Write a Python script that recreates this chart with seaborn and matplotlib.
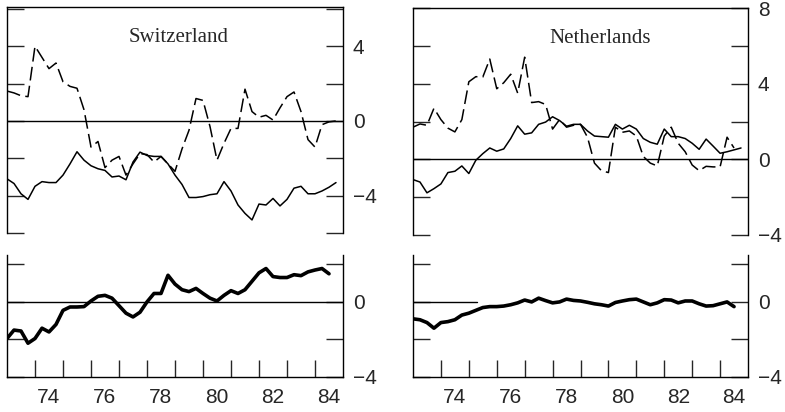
import numpy as np
import pandas as pd
import matplotlib
matplotlib.use("Agg")
import matplotlib.pyplot as plt
import seaborn as sns
from matplotlib.ticker import FixedLocator, FuncFormatter

# ---------------- data (quarterly, starting 1973Q1) ----------------
sw_dashed = [1.6, 1.5, 1.35, 1.3, 4.0, 3.4, 2.8, 3.1, 2.1, 1.85, 1.75, 0.6,
             -1.4, -1.1, -2.5, -2.1, -1.9, -2.9, -2.3, -1.75, -1.8, -2.2, -1.9, -2.3,
             -2.7, -1.5, -0.5, 1.2, 1.1, -0.3, -2.1, -1.2, -0.4, -0.4, 1.7, 0.5,
             0.2, 0.3, 0.05, 0.7, 1.3, 1.55, 0.5, -1.0, -1.4, -0.2, -0.05, 0.0]
sw_solid = [-3.1, -3.35, -3.9, -4.2, -3.5, -3.25, -3.3, -3.3, -2.9, -2.3, -1.65, -2.1,
            -2.4, -2.56, -2.65, -3.0, -2.95, -3.15, -2.2, -1.67, -1.85, -1.9, -1.9, -2.3,
            -2.9, -3.4, -4.1, -4.1, -4.05, -3.95, -3.9, -3.25, -3.75, -4.5, -4.95, -5.3,
            -4.45, -4.5, -4.15, -4.55, -4.2, -3.6, -3.5, -3.9, -3.9, -3.75, -3.55, -3.3]
sw_bottom = [-1.95, -1.5, -1.55, -2.2, -1.95, -1.4, -1.6, -1.2, -0.45, -0.27, -0.27, -0.25,
             0.05, 0.3, 0.35, 0.2, -0.2, -0.6, -0.8, -0.55, 0.0, 0.45, 0.45, 1.42,
             0.95, 0.65, 0.55, 0.72, 0.45, 0.2, 0.05, 0.35, 0.6, 0.45, 0.65, 1.1,
             1.55, 1.78, 1.35, 1.3, 1.3, 1.45, 1.4, 1.6, 1.7, 1.78, 1.5]

nl_dashed = [1.7, 1.87, 1.8, 2.7, 2.1, 1.65, 1.45, 2.1, 4.1, 4.37, 4.35, 5.3,
             3.73, 4.05, 4.5, 3.5, 5.4, 3.0, 3.05, 2.9, 1.6, 2.1, 1.7, 1.8,
             1.85, 1.17, -0.2, -0.6, -0.7, 1.7, 1.43, 1.5, 1.23, 0.15, -0.2, -0.35,
             1.23, 1.7, 0.85, 0.4, -0.3, -0.6, -0.37, -0.4, -0.4, 1.17, 0.6]
nl_solid = [-1.07, -1.2, -1.77, -1.55, -1.3, -0.7, -0.63, -0.35, -0.75, -0.05, 0.3, 0.6,
            0.43, 0.55, 1.1, 1.77, 1.33, 1.4, 1.85, 1.97, 2.25, 2.05, 1.75, 1.85,
            1.85, 1.5, 1.23, 1.2, 1.17, 1.85, 1.6, 1.8, 1.6, 1.1, 0.9, 0.8,
            1.6, 1.2, 1.2, 1.1, 0.85, 0.53, 1.07, 0.7, 0.32, 0.4, 0.5, 0.6]
nl_bottom = [-0.9, -0.95, -1.1, -1.4, -1.1, -1.05, -0.95, -0.7, -0.6, -0.45, -0.3, -0.25,
             -0.25, -0.22, -0.15, -0.05, 0.1, 0.0, 0.2, 0.07, -0.05, 0.0, 0.15, 0.08,
             0.05, -0.02, -0.1, -0.15, -0.22, -0.03, 0.05, 0.12, 0.15, 0.0, -0.15, -0.05,
             0.12, 0.1, -0.05, 0.05, 0.05, -0.1, -0.22, -0.2, -0.1, 0.0, -0.25]

start_year = 1973
year_ticks = list(range(1974, 1985))
year_labels = ["74", "76", "78", "80", "82", "84"]
label_pos = [1974.5, 1976.5, 1978.5, 1980.5, 1982.5, 1984.5]
titles = ["Switzerland", "Netherlands"]


def qx(vals):
    return start_year + np.arange(len(vals)) * 0.25


# ---------------- figure ----------------
sns.set_style("white")
plt.rcParams["font.family"] = ["Liberation Sans", "DejaVu Sans"]

W, H = 785, 412
fig = plt.figure(figsize=(W / 100, H / 100), dpi=100)


def box(l, t, r, b):
    return [l / W, 1 - b / H, (r - l) / W, (b - t) / H]


ax_sw_top = fig.add_axes(box(7, 7, 343, 233))
ax_sw_bot = fig.add_axes(box(7, 255, 343, 377))
ax_nl_top = fig.add_axes(box(413, 8, 748, 235))
ax_nl_bot = fig.add_axes(box(413, 255, 748, 377))

DASH = (0, (9, 3.5))


def draw_top(ax, solid, dashed, ylim, title, tx):
    ax.axhline(0, color="black", lw=1.0, zorder=1)
    sns.lineplot(x=qx(solid), y=solid, ax=ax, color="black", lw=1.1, zorder=3)
    sns.lineplot(x=qx(dashed), y=dashed, ax=ax, color="black", lw=1.1,
                 linestyle=DASH, zorder=3)
    ax.set_ylim(*ylim)
    ax.text(tx, 0.865, title, transform=ax.transAxes, ha="center", va="center",
            fontsize=15, family=["Liberation Serif", "DejaVu Serif"])
    ax.tick_params(axis="x", which="both", bottom=False, labelbottom=False)
    for s in ["left", "right", "top"]:
        ax.spines[s].set_visible(True)
        ax.spines[s].set_linewidth(1.0)
        ax.spines[s].set_color("black")
    ax.spines["bottom"].set_visible(False)


def draw_bottom(ax, vals, zero_xmax=1.0):
    ax.axhline(0, color="black", lw=1.0, xmax=zero_xmax, zorder=1)
    sns.lineplot(x=qx(vals), y=vals, ax=ax, color="black", lw=2.6, zorder=3)
    ax.set_ylim(-4, 2.5)
    for s in ["left", "right", "bottom"]:
        ax.spines[s].set_visible(True)
        ax.spines[s].set_linewidth(1.0)
        ax.spines[s].set_color("black")
    ax.spines["top"].set_visible(False)
    ax.xaxis.set_major_locator(FixedLocator(year_ticks))
    ax.xaxis.set_major_formatter(FuncFormatter(lambda v, p: ""))
    ax.xaxis.set_minor_locator(FixedLocator(label_pos))
    ax.set_xticks(label_pos, year_labels, minor=True)
    ax.tick_params(axis="x", which="major", direction="in", length=12, width=1.0,
                   bottom=True, top=False)
    ax.tick_params(axis="x", which="minor", length=0, pad=8, labelsize=15)


def ylab(v, p):
    if abs(v % 4) < 1e-9:
        iv = int(round(v))
        return f"\u2212{abs(iv)}" if iv < 0 else f"{iv}"
    return ""


def yaxis(ax, ticks):
    ax.yaxis.set_major_locator(FixedLocator(ticks))
    ax.yaxis.set_major_formatter(FuncFormatter(ylab))
    ax.tick_params(axis="y", which="major", direction="in", length=12, width=1.0,
                   left=True, right=True, labelleft=False, labelright=True,
                   pad=7, labelsize=15)
    ax.set_xlim(1973, 1985)
    ax.set_xlabel("")
    ax.set_ylabel("")


draw_top(ax_sw_top, sw_solid, sw_dashed, (-6, 6.1), titles[0], 0.512)
draw_top(ax_nl_top, nl_solid, nl_dashed, (-4, 8), titles[1], 0.558)
draw_bottom(ax_sw_bot, sw_bottom)
draw_bottom(ax_nl_bot, nl_bottom, zero_xmax=0.19)

yaxis(ax_sw_top, [-6, -4, -2, 0, 2, 4, 6])
yaxis(ax_nl_top, [-4, -2, 0, 2, 4, 6, 8])
yaxis(ax_sw_bot, [-4, -2, 0, 2])
yaxis(ax_nl_bot, [-4, -2, 0, 2])

fig.savefig("out.png", dpi=100)
